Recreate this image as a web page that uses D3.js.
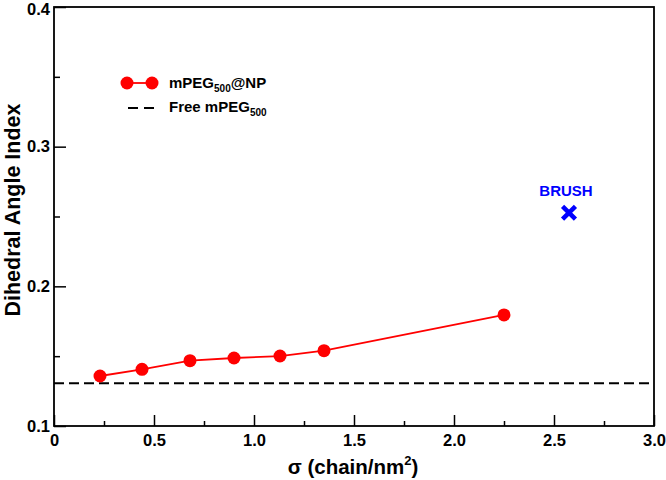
<!DOCTYPE html>
<html><head><meta charset="utf-8">
<script src="https://cdn.jsdelivr.net/npm/d3@7"></script>
<style>body{margin:0;background:#fff}svg{display:block}text{font-family:"Liberation Sans",Arial,Helvetica,sans-serif;font-weight:bold}</style>
</head><body>
<script>
const sigma = [0.23, 0.44, 0.68, 0.90, 1.13, 1.35, 2.25];
const dai = [0.1358, 0.1406, 0.1468, 0.1487, 0.1501, 0.1539, 0.1795];
const freeValue = 0.1306;
const brush = {x: 2.575, y: 0.2527, label: "BRUSH"};
const xMajor = [0, 0.5, 1.0, 1.5, 2.0, 2.5, 3.0];
const xMinor = [0.25, 0.75, 1.25, 1.75, 2.25, 2.75];
const yMajor = [0.1, 0.2, 0.3, 0.4];
const yMinor = [0.15, 0.25, 0.35];

const W = 666, H = 480;
const svg = d3.select("body").append("svg").attr("width", W).attr("height", H);
const x = d3.scaleLinear().domain([0, 3]).range([54, 654]);
const y = d3.scaleLinear().domain([0.1, 0.4]).range([426, 7]);

const g = svg.append("g");
g.append("line").attr("x1", x(0)).attr("x2", x(3)).attr("y1", y(freeValue)).attr("y2", y(freeValue))
 .attr("stroke", "#000").attr("stroke-width", 1.8).attr("stroke-dasharray", "10,5");
g.append("path").datum(sigma.map((s, i) => [s, dai[i]]))
 .attr("d", d3.line().x(d => x(d[0])).y(d => y(d[1])))
 .attr("fill", "none").attr("stroke", "#ff0000").attr("stroke-width", 1.8);
g.selectAll("circle.pt").data(sigma.map((s, i) => [s, dai[i]])).join("circle")
 .attr("class", "pt").attr("cx", d => x(d[0])).attr("cy", d => y(d[1])).attr("r", 6.5).attr("fill", "#ff0000");

const bx = x(brush.x), by = y(brush.y);
g.append("path").attr("d", d3.symbol(d3.symbolX, 110)()).attr("transform", `translate(${bx},${by})`)
 .attr("stroke", "#0000ff").attr("stroke-width", 4.5).attr("fill", "none");
g.append("text").attr("x", bx - 3).attr("y", by - 17).attr("text-anchor", "middle")
 .attr("font-size", 15).attr("fill", "#0000ff").text(brush.label);

svg.append("rect").attr("x", x(0)).attr("y", y(0.4)).attr("width", x(3) - x(0)).attr("height", y(0.1) - y(0.4))
 .attr("fill", "none").attr("stroke", "#000").attr("stroke-width", 1.8);

const xa = svg.append("g").attr("transform", `translate(0,${y(0.1)})`)
 .call(d3.axisBottom(x).tickValues(xMajor).tickSize(-11).tickFormat(d => d === 0 ? "0" : d3.format(".1f")(d)));
xa.select(".domain").remove();
xa.selectAll("line").attr("stroke-width", 1.5);
xa.selectAll("text").attr("font-size", 16.5).attr("font-family", "Liberation Sans, Arial, sans-serif").attr("font-weight", "bold").attr("dy", null).attr("y", 20);
const xm = svg.append("g").attr("transform", `translate(0,${y(0.1)})`)
 .call(d3.axisBottom(x).tickValues(xMinor).tickSize(-5).tickFormat(""));
xm.select(".domain").remove();
xm.selectAll("line").attr("stroke-width", 1.5);

const ya = svg.append("g").attr("transform", `translate(${x(0)},0)`)
 .call(d3.axisLeft(y).tickValues(yMajor).tickSize(-12).tickFormat(d3.format(".1f")));
ya.select(".domain").remove();
ya.selectAll("line").attr("stroke-width", 1.5);
ya.selectAll("text").attr("font-size", 16.5).attr("font-family", "Liberation Sans, Arial, sans-serif").attr("font-weight", "bold").attr("x", -4)
 .attr("y", d => d === 0.4 ? 2 : 0);
const ym = svg.append("g").attr("transform", `translate(${x(0)},0)`)
 .call(d3.axisLeft(y).tickValues(yMinor).tickSize(-6).tickFormat(""));
ym.select(".domain").remove();
ym.selectAll("line").attr("stroke-width", 1.5);

const xt = svg.append("text").attr("x", 353).attr("y", 474).attr("text-anchor", "middle").attr("font-size", 20.5);
xt.append("tspan").text("σ (chain/nm");
xt.append("tspan").attr("font-size", 13).attr("dy", -9).text("2");
xt.append("tspan").attr("dy", 9).text(")");

svg.append("text").attr("transform", `translate(20,210) rotate(-90)`).attr("text-anchor", "middle")
 .attr("font-size", 21.5).text("Dihedral Angle Index");

const lg = svg.append("g");
lg.append("line").attr("x1", 127).attr("x2", 152).attr("y1", 83).attr("y2", 83).attr("stroke", "#ff0000").attr("stroke-width", 1.8);
lg.selectAll("circle").data([127, 152]).join("circle").attr("cx", d => d).attr("cy", 83).attr("r", 6.5).attr("fill", "#ff0000");
const t1 = lg.append("text").attr("x", 169).attr("y", 88).attr("font-size", 15);
t1.append("tspan").text("mPEG");
t1.append("tspan").attr("font-size", 10).attr("dy", 4).text("500");
t1.append("tspan").attr("dy", -4).text("@NP");
lg.append("line").attr("x1", 128).attr("x2", 154).attr("y1", 108).attr("y2", 108).attr("stroke", "#000").attr("stroke-width", 1.8).attr("stroke-dasharray", "10,6");
const t2 = lg.append("text").attr("x", 169).attr("y", 112).attr("font-size", 15);
t2.append("tspan").text("Free mPEG");
t2.append("tspan").attr("font-size", 10).attr("dy", 4).text("500");
</script>
</body></html>
